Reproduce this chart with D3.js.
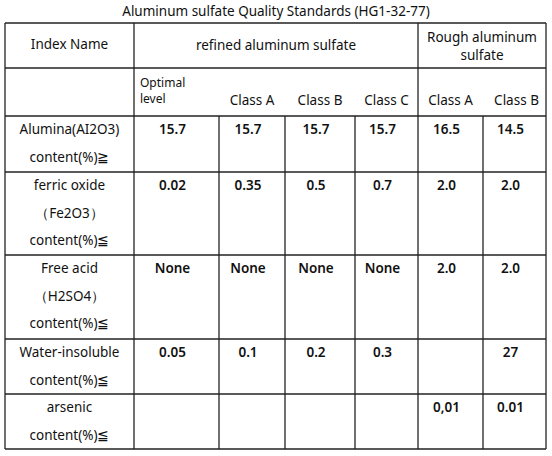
<!DOCTYPE html>
<html><head><meta charset="utf-8">
<script src="https://cdn.jsdelivr.net/npm/d3@7"></script>
<style>body{margin:0;background:#fff}svg{font-family:"Noto Sans",sans-serif}</style>
</head><body><svg id="c" width="552" height="456"></svg>
<script>
const title = "Aluminum  sulfate Quality  Standards (HG1-32-77)";
const groups = [["refined aluminum  sulfate"], ["Rough aluminum", "sulfate"]];
const classes = [["Optimal","level"], ["Class A"], ["Class B"], ["Class C"], ["Class A"], ["Class B"]];
const indexNames = [
  ["Alumina(AI2O3)", "content(%)\u2267"],
  ["ferric oxide", "\uff08Fe2O3\uff09", "content(%)\u2266"],
  ["Free acid", "\uff08H2SO4\uff09", "content(%)\u2266"],
  ["Water-insoluble", "content(%)\u2266"],
  ["arsenic", "content(%)\u2266"]
];
const values = [
  ["15.7","15.7","15.7","15.7","16.5","14.5"],
  ["0.02","0.35","0.5","0.7","2.0","2.0"],
  ["None","None","None","None","2.0","2.0"],
  ["0.05","0.1","0.2","0.3","","27"],
  ["","","","","0,01","0.01"]
];

// layout
const colX = [5,134,219,285,355,418,483,546];
const rowY = [23,68,116,172,255,339,394,449];
const svg = d3.select("#c");
const lineH = 27.5;
const g = svg.append("g");
function line(x1,y1,x2,y2){g.append("line").attr("x1",x1).attr("y1",y1).attr("x2",x2).attr("y2",y2).attr("stroke","#222").attr("stroke-width",1.3);}
function text(x,y,t,size,w){return svg.append("text").attr("x",x).attr("y",y).attr("text-anchor","middle").attr("font-size",size||13.5).attr("font-weight",w||400).attr("fill","#111").text(t);}

text(276,16,title,13.5);
rowY.forEach(y=>line(colX[0],y,colX[7],y));
line(colX[0],rowY[0],colX[0],rowY[7]);
line(colX[7],rowY[0],colX[7],rowY[7]);
line(colX[1],rowY[0],colX[1],rowY[7]);
line(colX[5],rowY[0],colX[5],rowY[7]);
[2,3,4,6].forEach(c=>line(colX[c],rowY[2],colX[c],rowY[7]));
text((colX[0]+colX[1])/2,49,"Index Name");
text((colX[1]+colX[5])/2,50,groups[0][0]);
groups[1].forEach((t,i)=>text((colX[5]+colX[7])/2,42+i*18,t));
classes.forEach((c,i)=>{
  const cx=(colX[i+1]+colX[i+2])/2;
  if(c.length===2){c.forEach((t,j)=>svg.append("text").attr("x",colX[1]+6).attr("y",87+j*16).attr("font-size",12).attr("fill","#111").text(t));}
  else text(cx+(i===5?2:0),105,c[0]);
});
indexNames.forEach((lines,r)=>{
  const y0=rowY[r+2]+18;
  lines.forEach((t,j)=>text((colX[0]+colX[1])/2,y0+j*lineH,t));
  values[r].forEach((v,c)=>{ if(v) text((colX[c+1]+colX[c+2])/2-4,y0,v,13.5,600); });
});
</script></body></html>
